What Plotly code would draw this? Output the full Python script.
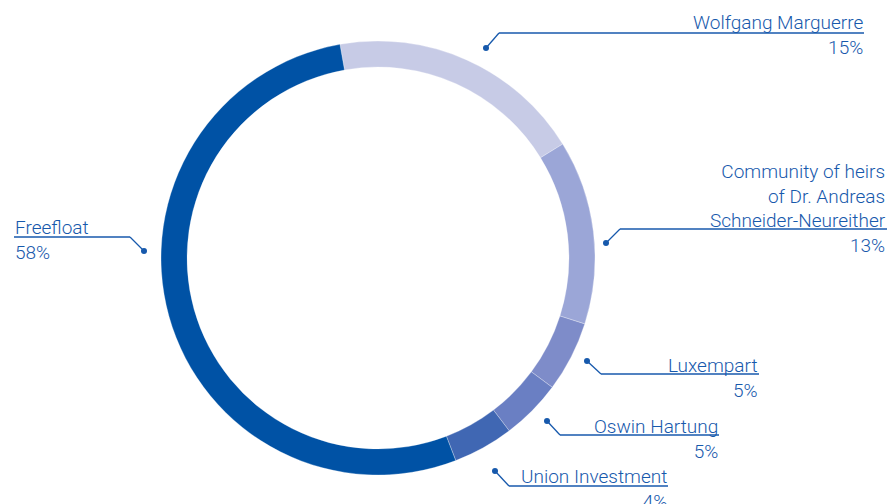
import plotly.graph_objects as go

# Data (slice sizes read from the drawn arcs; labels show the printed percentages)
holders = ["Wolfgang Marguerre", "Community of heirs of Dr. Andreas Schneider-Neureither",
           "Luxempart", "Oswin Hartung", "Union Investment", "Freefloat"]
label_text = ["Wolfgang Marguerre", "Community of heirs<br>of Dr. Andreas<br>Schneider-Neureither",
              "Luxempart", "Oswin Hartung", "Union Investment", "Freefloat"]
arc_values = [19.0, 13.7, 5.25, 4.5, 4.5, 53.0]
printed_pct = ["15%", "13%", "5%", "5%", "4%", "58%"]
colors = ["#C7CBE6", "#9BA6D7", "#7E8CC9", "#6A7FC3", "#4067B3", "#0052A5"]

W, H = 892, 504
TXT = "#1759AC"
FONT = dict(family="Roboto", size=19, color=TXT, weight=300)

cx, cy, R = 378, 258, 217
fig = go.Figure()
fig.add_trace(go.Pie(
    labels=holders, values=arc_values, sort=False, direction="clockwise",
    rotation=-10.1, hole=0.88, textinfo="none", hoverinfo="skip",
    marker=dict(colors=colors, line=dict(color="rgba(255,255,255,0.5)", width=0.6)),
    domain=dict(x=[(cx - R) / W, (cx + R) / W], y=[1 - (cy + R) / H, 1 - (cy - R) / H]),
    showlegend=False,
))

# label layout: (dot x, dot y, elbow x, underline y, text x, first baseline, anchor)
layout_pos = [
    (486, 48, 499, 33, 864, 28, "right"),
    (606, 243, 620, 229, 887, 177, "right"),
    (587, 361, 601, 374, 759, 371, "right"),
    (547, 421, 560, 435, 719, 432, "right"),
    (495, 471, 509, 486, 668, 482, "right"),
    (144, 251, 130, 237, 14, 233, "left"),
]

shapes = []
annotations = []
for (dx, dy, ex, uy, tx, by, anc), name, pct in zip(layout_pos, label_text, printed_pct):
    end_x = 14 if anc == "left" else tx
    shapes.append(dict(type="line", xref="x", yref="y", x0=dx, y0=dy, x1=ex, y1=uy,
                       line=dict(color=TXT, width=1.3)))
    shapes.append(dict(type="line", xref="x", yref="y", x0=ex, y0=uy, x1=end_x, y1=uy,
                       line=dict(color=TXT, width=1.3)))
    shapes.append(dict(type="circle", xref="x", yref="y", x0=dx - 3, y0=dy - 3, x1=dx + 3, y1=dy + 3,
                       fillcolor=TXT, line=dict(width=0)))
    annotations.append(dict(xref="x", yref="y", x=tx, y=by - 18, xanchor=anc, yanchor="top",
                            align=anc, text=name + "<br>" + pct, showarrow=False,
                            font=FONT, borderpad=0))

fig.update_layout(
    width=W, height=H, margin=dict(l=0, r=0, t=0, b=0),
    paper_bgcolor="white", plot_bgcolor="rgba(0,0,0,0)",
    xaxis=dict(range=[0, W], visible=False, fixedrange=True),
    yaxis=dict(range=[H, 0], visible=False, fixedrange=True),
    shapes=shapes, annotations=annotations,
)
fig.write_html("out.html", config={"displayModeBar": False},
               post_script="document.body.style.margin='0';document.body.style.padding='0';")
